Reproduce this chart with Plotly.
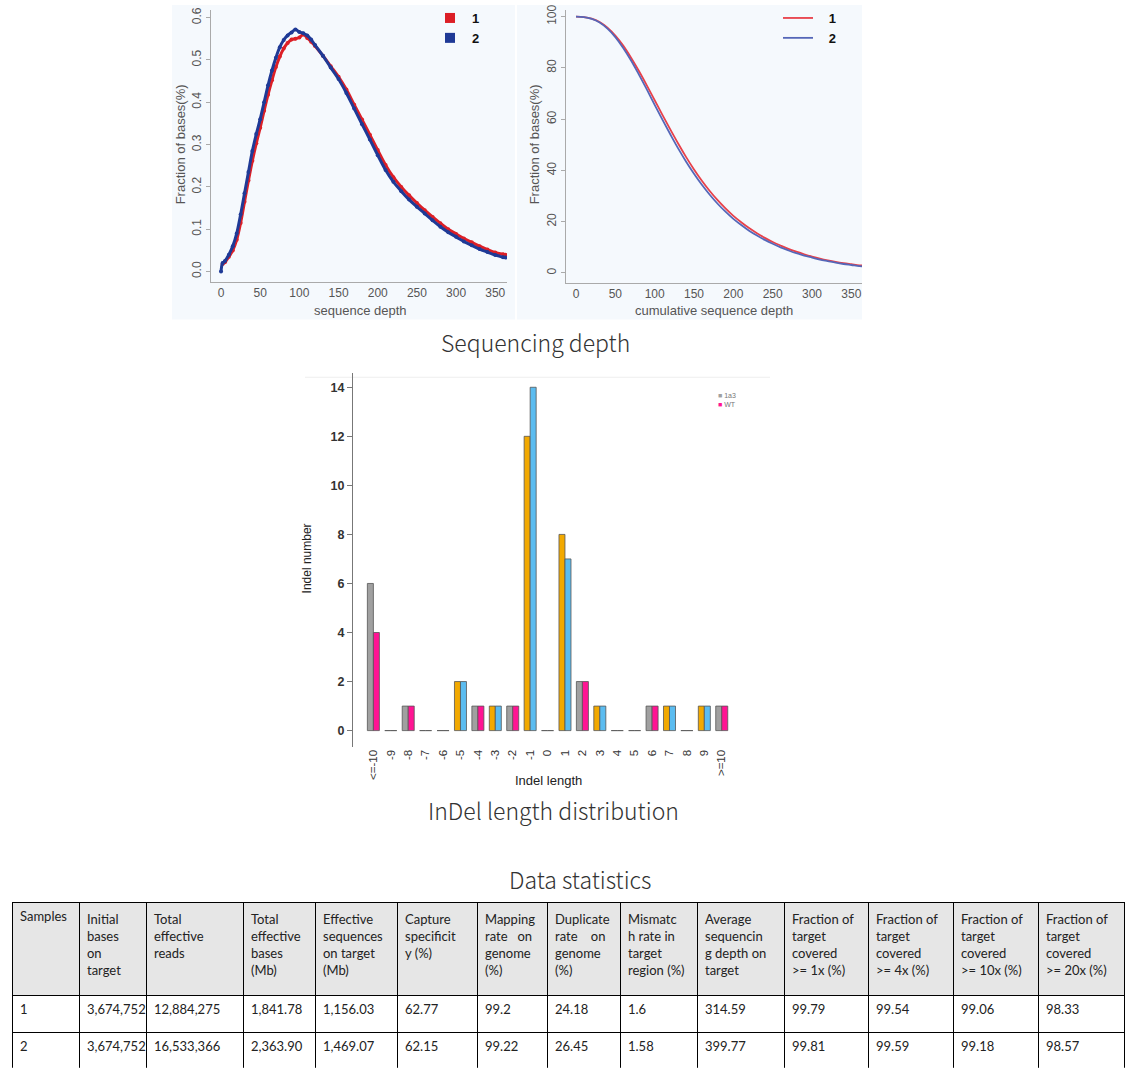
import plotly.graph_objects as go

W, H = 1139, 1080
def PX(x): return x / W
def PY(y): return 1 - y / H

# ---------------- data: sequencing depth distribution ----------------
depth1 = [2,5,10,15,20,25,30,35,40,45,50,55,60,65,70,75,80,85,90,95,100,105,110,115,120,130,140,150,160,170,180,190,200,210,220,230,240,250,260,270,280,290,300,310,320,330,340,350,360,363]
frac1 = [0.018,0.022,0.035,0.05,0.075,0.115,0.165,0.215,0.262,0.303,0.34,0.38,0.418,0.452,0.483,0.508,0.527,0.54,0.548,0.55,0.553,0.56,0.552,0.543,0.533,0.51,0.485,0.46,0.43,0.394,0.359,0.323,0.287,0.252,0.223,0.2,0.18,0.162,0.145,0.129,0.114,0.1,0.089,0.078,0.069,0.06,0.052,0.045,0.041,0.04]
depth2 = [0,2,5,10,15,20,25,30,35,40,45,50,55,60,65,70,75,80,85,90,95,100,105,110,115,120,130,140,150,160,170,180,190,200,210,220,230,240,250,260,270,280,290,300,310,320,330,340,350,360,363]
frac2 = [0.0,0.02,0.025,0.04,0.06,0.09,0.135,0.185,0.235,0.285,0.325,0.36,0.40,0.44,0.475,0.505,0.53,0.547,0.558,0.565,0.572,0.566,0.563,0.558,0.548,0.535,0.51,0.482,0.455,0.422,0.385,0.348,0.312,0.275,0.24,0.212,0.19,0.17,0.153,0.137,0.121,0.106,0.093,0.082,0.071,0.062,0.053,0.046,0.039,0.034,0.033]

# ---------------- data: cumulative depth ----------------
cum_depth = [0,10,20,30,40,50,60,70,80,90,100,110,120,130,140,150,160,170,180,190,200,210,220,230,240,250,260,270,280,290,300,310,320,330,340,350,360,364]
cum1 = [100,99.8,99.2,97.9,95.7,92.6,88.7,84.0,78.8,73.2,67.4,61.6,55.9,50.4,45.2,40.4,36.0,32.0,28.4,25.2,22.3,19.8,17.5,15.5,13.7,12.1,10.7,9.4,8.3,7.3,6.4,5.6,4.9,4.3,3.8,3.4,3.0,2.9]
cum2 = [100,99.8,99.1,97.7,95.3,92.0,87.8,82.9,77.4,71.6,65.6,59.7,54.0,48.5,43.4,38.7,34.4,30.5,27.0,23.9,21.1,18.7,16.5,14.6,12.9,11.4,10.0,8.8,7.7,6.8,6.0,5.2,4.6,4.0,3.5,3.1,2.7,2.6]

# ---------------- data: indel length ----------------
indel_cats = ["&lt;=-10","-9","-8","-7","-6","-5","-4","-3","-2","-1","0","1","2","3","4","5","6","7","8","9","&gt;=10"]
indel_a = [6,0,1,0,0,2,1,1,1,12,0,8,2,1,0,0,1,1,0,1,1]
indel_b = [4,0,1,0,0,2,1,1,1,14,0,7,2,1,0,0,1,1,0,1,1]
pair_style = ["g","g","g","g","g","o","g","o","g","o","g","o","g","o","g","g","g","o","g","o","g"]

# ---------------- data: table ----------------
NB = "\u00a0"
tbl_header = ["Samples", "Initial<br>bases<br>on<br>target", "Total<br>effective<br>reads",
              "Total<br>effective<br>bases<br>(Mb)",
              "Effective<br>sequences<br>on target<br>(Mb)",
              "Capture<br>specificit<br>y (%)", "Mapping<br>rate" + NB * 3 + "on<br>genome<br>(%)",
              "Duplicate<br>rate" + NB * 4 + "on<br>genome<br>(%)",
              "Mismatc<br>h rate in<br>target<br>region (%)",
              "Average<br>sequencin<br>g depth on<br>target",
              "Fraction of<br>target<br>covered<br>&gt;= 1x (%)",
              "Fraction of<br>target<br>covered<br>&gt;= 4x (%)",
              "Fraction of<br>target<br>covered<br>&gt;= 10x (%)",
              "Fraction of<br>target<br>covered<br>&gt;= 20x (%)"]
samples = ["1", "2"]
initial_bases = ["3,674,752", "3,674,752"]
total_reads = ["12,884,275", "16,533,366"]
total_bases = ["1,841.78", "2,363.90"]
eff_seq = ["1,156.03", "1,469.07"]
capture = ["62.77", "62.15"]
mapping = ["99.2", "99.22"]
duplicate = ["24.18", "26.45"]
mismatch = ["1.6", "1.58"]
avg_depth = ["314.59", "399.77"]
cov1 = ["99.79", "99.81"]
cov4 = ["99.54", "99.59"]
cov10 = ["99.06", "99.18"]
cov20 = ["98.33", "98.57"]

fig = go.Figure()

RED_A, BLUE_A = "#dc1f26", "#1f3a96"
RED_B, BLUE_B = "#e8414a", "#5567b8"

# density
fig.add_trace(go.Scatter(x=depth1, y=frac1, mode="lines+markers", line=dict(color=RED_A, width=3, shape="spline"),
                         marker=dict(size=4, color=RED_A), showlegend=False, xaxis="x", yaxis="y"))
fig.add_trace(go.Scatter(x=depth2, y=frac2, mode="lines+markers", line=dict(color=BLUE_A, width=3, shape="spline"),
                         marker=dict(size=4, color=BLUE_A), showlegend=False, xaxis="x", yaxis="y"))
fig.add_trace(go.Scatter(x=[None], y=[None], mode="markers", name="1", marker=dict(symbol="square", size=10, color=RED_A),
                         legend="legend", xaxis="x", yaxis="y"))
fig.add_trace(go.Scatter(x=[None], y=[None], mode="markers", name="2", marker=dict(symbol="square", size=10, color=BLUE_A),
                         legend="legend", xaxis="x", yaxis="y"))

# cumulative
fig.add_trace(go.Scatter(x=cum_depth, y=cum1, mode="lines", name=NB * 3 + "1",
                         line=dict(color=RED_B, width=1.8, shape="spline"),
                         legend="legend2", xaxis="x2", yaxis="y2"))
fig.add_trace(go.Scatter(x=cum_depth, y=cum2, mode="lines", name=NB * 3 + "2",
                         line=dict(color=BLUE_B, width=1.8, shape="spline"),
                         legend="legend2", xaxis="x2", yaxis="y2"))

# indel bars
cA = ["#a0a0a0" if s == "g" else "#f2a900" for s in pair_style]
cB = ["#ff1493" if s == "g" else "#5bbcf0" for s in pair_style]
fig.add_trace(go.Bar(x=indel_cats, y=indel_a, name="1a3", marker=dict(color=cA, line=dict(color="#555", width=0.8)),
                     showlegend=False, xaxis="x3", yaxis="y3"))
fig.add_trace(go.Bar(x=indel_cats, y=indel_b, name="WT", marker=dict(color=cB, line=dict(color="#555", width=0.8)),
                     showlegend=False, xaxis="x3", yaxis="y3"))

# table
tfont = dict(family="Lato", size=13, color="#222")
fig.add_trace(go.Table(
    domain=dict(x=[PX(12), PX(1124)], y=[PY(1068), PY(902)]),
    columnwidth=[67, 67, 97, 72, 82, 80, 70, 73, 77, 87, 84, 85, 85, 86],
    header=dict(values=tbl_header, fill_color="#e6e6e6", line=dict(color="black", width=1), align="left",
                font=tfont, height=93),
    cells=dict(values=[samples, initial_bases, total_reads, total_bases, eff_seq, capture, mapping, duplicate,
                       mismatch, avg_depth, cov1, cov4, cov10, cov20],
               fill_color="white", line=dict(color="black", width=1), align="left",
               font=tfont, height=37)))

tickf = dict(family="Liberation Sans, Arial", size=12, color="#555")
xaxis_common = dict(showgrid=False, zeroline=False, showline=True, linecolor="#aaa", linewidth=1,
                    ticks="", tickfont=tickf)
yaxis_common = dict(showgrid=False, zeroline=False, showline=True, linecolor="#aaa", linewidth=1,
                    ticks="outside", ticklen=4, tickcolor="#aaa", tickfont=tickf)

fig.update_layout(
    width=W, height=H, margin=dict(l=0, r=0, t=0, b=0),
    paper_bgcolor="white", plot_bgcolor="rgba(0,0,0,0)",
    bargap=0.31, bargroupgap=0, barmode="group",
    xaxis=dict(domain=[PX(211), PX(507)], range=[-12.8, 365], tickvals=[0,50,100,150,200,250,300,350],
               anchor="y", **xaxis_common),
    yaxis=dict(domain=[PY(278), PY(5)], range=[-0.024, 0.618], tickvals=[0,0.1,0.2,0.3,0.4,0.5,0.6],
               tickformat=".1f", tickangle=-90, anchor="x", **yaxis_common),
    xaxis2=dict(domain=[PX(566), PX(862)], range=[-12.7, 363.5], tickvals=[0,50,100,150,200,250,300,350],
                anchor="y2", **xaxis_common),
    yaxis2=dict(domain=[PY(279), PY(5)], range=[-3.8, 102.6], tickvals=[0,20,40,60,80,100],
                tickangle=-90, anchor="x2", **yaxis_common),
    xaxis3=dict(domain=[PX(353), PX(770)], range=[-1.17, 22.77], showgrid=False, zeroline=False, showline=False,
                ticks="", tickangle=-90, tickfont=dict(family="Liberation Sans, Arial", size=11.5, color="#333"),
                anchor="y3"),
    yaxis3=dict(domain=[PY(745), PY(370)], range=[-0.65, 14.57], tickvals=[0,2,4,6,8,10,12,14],
                showgrid=False, zeroline=False, showline=True, linecolor="#777", ticks="outside", ticklen=5,
                tickcolor="#777", tickfont=dict(family="Liberation Sans, Arial", size=12.5, color="#333", weight=700),
                anchor="x3"),
    legend=dict(x=PX(428), y=PY(-2), xanchor="left", yanchor="top", bgcolor="rgba(0,0,0,0)",
                font=dict(family="Liberation Sans, Arial", size=13, color="#111", weight=700),
                itemwidth=34, tracegroupgap=0),
    legend2=dict(x=PX(778), y=PY(-2), xanchor="left", yanchor="top", bgcolor="rgba(0,0,0,0)",
                 font=dict(family="Liberation Sans, Arial", size=13, color="#111", weight=700),
                 itemwidth=30, tracegroupgap=0),
)

shapes = [
    dict(type="rect", xref="paper", yref="paper", x0=PX(172), x1=PX(515), y0=PY(316), y1=PY(0),
         fillcolor="#f5f9fd", line=dict(width=0), layer="below"),
    dict(type="rect", xref="paper", yref="paper", x0=PX(517), x1=PX(862), y0=PY(316), y1=PY(0),
         fillcolor="#f5f9fd", line=dict(width=0), layer="below"),
    dict(type="line", xref="paper", yref="paper", x0=PX(305), x1=PX(770), y0=PY(374), y1=PY(374),
         line=dict(color="#eeeeee", width=1), layer="below"),
]
fig.update_layout(shapes=shapes)

ttl = dict(family="Liberation Sans, Arial", size=13, color="#555")
cap = dict(family="Noto Sans CJK SC, Noto Sans", size=23, color="#333", weight=300)
ann = [
    dict(text="Fraction of bases(%)", x=PX(180), y=PY(140), textangle=-90, font=ttl),
    dict(text="sequence depth", x=PX(360), y=PY(307), font=ttl),
    dict(text="Fraction of bases(%)", x=PX(534), y=PY(140), textangle=-90, font=ttl),
    dict(text="cumulative sequence depth", x=PX(714), y=PY(307), font=ttl),
    dict(text="Indel number", x=PX(307), y=PY(556), textangle=-90,
         font=dict(family="Liberation Sans, Arial", size=12, color="#222")),
    dict(text="Indel length", x=PX(548), y=PY(779),
         font=dict(family="Liberation Sans, Arial", size=13, color="#222")),
    dict(text="<span style='color:#a0a0a0'>■</span> 1a3<br><span style='color:#ff1493'>■</span> WT",
         x=PX(716), y=PY(387), xanchor="left", yanchor="top", align="left",
         font=dict(family="Liberation Sans, Arial", size=7, color="#777")),
    dict(text="Sequencing depth", x=PX(535), y=PY(339), font=cap),
    dict(text="InDel length distribution", x=PX(553), y=PY(809), font=cap),
    dict(text="Data statistics", x=PX(580), y=PY(878), font=cap),
]
for a in ann:
    a.update(xref="paper", yref="paper", showarrow=False)
    a.setdefault("xanchor", "center")
    a.setdefault("yanchor", "middle")
fig.update_layout(annotations=ann)

fig.write_html("out.html", config={"displayModeBar": False},
               post_script="document.body.style.margin='0';")
